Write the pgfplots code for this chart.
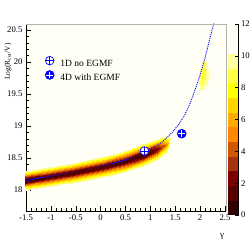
\documentclass[border=0pt]{standalone}
\usepackage{pgfplots}
\pgfplotsset{compat=1.18}
\usepackage{fontspec}
\setmainfont{Liberation Serif}
\definecolor{bgc}{RGB}{255,255,245}
\definecolor{mblue}{RGB}{0,0,255}
\pgfdeclareplotmark{ocross}{%
  \pgfpathcircle{\pgfpointorigin}{\pgfplotmarksize}%
  \pgfusepathqfillstroke
  \pgfpathmoveto{\pgfqpoint{-\pgfplotmarksize}{0pt}}%
  \pgfpathlineto{\pgfqpoint{\pgfplotmarksize}{0pt}}%
  \pgfpathmoveto{\pgfqpoint{0pt}{-\pgfplotmarksize}}%
  \pgfpathlineto{\pgfqpoint{0pt}{\pgfplotmarksize}}%
  \pgfusepathqstroke
}
\pgfdeclareplotmark{fcross}{%
  \pgfpathcircle{\pgfpointorigin}{\pgfplotmarksize}%
  \pgfusepathqfillstroke
  \pgfsetstrokecolor{white}%
  \pgfpathmoveto{\pgfqpoint{-0.8\pgfplotmarksize}{0pt}}%
  \pgfpathlineto{\pgfqpoint{0.8\pgfplotmarksize}{0pt}}%
  \pgfpathmoveto{\pgfqpoint{0pt}{-0.8\pgfplotmarksize}}%
  \pgfpathlineto{\pgfqpoint{0pt}{0.8\pgfplotmarksize}}%
  \pgfusepathqstroke
}
\begin{document}
\begin{tikzpicture}
\useasboundingbox (0,0) rectangle (252pt,241pt);
\begin{axis}[
  at={(26pt,30pt)}, anchor=south west,
  scale only axis, width=200pt, height=187pt,
  xmin=-1.5, xmax=2.52, ymin=17.672, ymax=20.594,
  clip mode=individual,
  axis x line*=bottom, axis y line*=left,
  x axis line style={-}, y axis line style={-},
  axis line style={line width=0.6pt},
  xtick={-1.5,-1,-0.5,0,0.5,1,1.5,2,2.5},
  ytick={18,18.5,19,19.5,20,20.5},
  minor x tick num=4, minor y tick num=4,
  tick align=inside, major tick length=5pt, minor tick length=2.7pt,
  tick style={black, line width=0.5pt},
  ticklabel style={font=\fontsize{8.7}{10}\selectfont},
  /pgf/number format/assume math mode=true,
  axis background/.style={fill=bgc},
  colormap={root}{rgb255=(48,0,0) rgb255=(88,0,0) rgb255=(124,0,0) rgb255=(168,50,10) rgb255=(208,88,0) rgb255=(255,136,0) rgb255=(255,170,0) rgb255=(255,212,0) rgb255=(255,255,0) rgb255=(255,255,70) rgb255=(255,255,160) rgb255=(255,255,245) rgb255=(255,255,245)},
  colormap access=piecewise constant,
  point meta min=0, point meta max=12,
  colorbar,
  colorbar style={
    at={(parent axis.north east)}, anchor=north west, xshift=-7pt,
    scale only axis, width=11pt, height=191pt,
    ytick={0,2,4,6,8,10,12},
    axis x line=none, axis y line*=right, y axis line style={-},
    tick align=inside, major tick length=4pt,
    tick style={black, line width=0.5pt},
    yticklabel style={font=\fontsize{8.7}{10}\selectfont, xshift=-1pt},
    /pgf/number format/assume math mode=true,
  },
  xlabel={γ},
  xlabel style={at={(rel axis cs:0.98,-0.134)}, anchor=center, font=\fontsize{9}{10}\selectfont},
  ylabel={Log(R\textsubscript{cut}/V)},
  ylabel style={at={(rel axis cs:-0.09,0.80)}, anchor=center, font=\fontsize{7.5}{9}\selectfont},
  legend style={draw=none, fill=none, at={(rel axis cs:0.096,0.828)}, anchor=north west,
    font=\fontsize{9.5}{11}\selectfont, inner sep=0pt, row sep=1.4pt,
    nodes={inner sep=1.5pt}, /tikz/column sep=5pt},
  legend cell align=left,
  legend image code/.code={\draw[#1] plot coordinates {(0pt,3.2pt)};},
]
% main likelihood band (columns of constant gamma, top to bottom)
\addplot[surf, shader=interp, forget plot, point meta=explicit] table[x=g, y=y, meta=v] {
g y v
-1.6 18.30 11
-1.6 18.236 7.0
-1.6 18.18 2.6
-1.6 18.14 0.7
-1.6 18.10 2.6
-1.6 18.044 7.0
-1.6 17.98 11

-1.14 18.36 11
-1.14 18.294 7.0
-1.14 18.236 2.6
-1.14 18.195 0.6
-1.14 18.154 2.6
-1.14 18.096 7.0
-1.14 18.03 11

-0.53 18.44 11
-0.53 18.372 7.0
-0.53 18.3125 2.6
-0.53 18.27 0.9
-0.53 18.2275 2.6
-0.53 18.168 7.0
-0.53 18.10 11

0.07 18.54 11
0.07 18.47 7.0
0.07 18.409 2.6
0.07 18.365 1.0
0.07 18.321 2.6
0.07 18.26 7.0
0.07 18.19 11

0.47 18.63 11
0.47 18.556 7.0
0.47 18.491 2.6
0.47 18.445 0.8
0.47 18.399 2.6
0.47 18.334 7.0
0.47 18.26 11

0.87 18.75 11
0.87 18.672 7.0
0.87 18.604 2.6
0.87 18.555 0.5
0.87 18.506 2.6
0.87 18.438 7.0
0.87 18.36 11

1.14 18.82 11
1.14 18.746 7.3
1.14 18.681 3.4
1.14 18.635 1.8
1.14 18.589 3.4
1.14 18.524 7.3
1.14 18.45 11

1.34 18.87 11
1.34 18.81 8.8
1.34 18.7575 6.6
1.34 18.72 5.0
1.34 18.6825 6.6
1.34 18.63 8.8
1.34 18.57 11

1.44 18.83 11
1.44 18.83 11
1.44 18.83 11
1.44 18.83 11
1.44 18.83 11
1.44 18.83 11
1.44 18.83 11
};
% secondary island near gamma ~ 2 (rows of constant y)
\addplot[surf, shader=interp, forget plot, point meta=explicit] table[x=g, y=y, meta=v] {
g y v
1.97 19.50 11
2.03 19.50 11
2.09 19.50 11
2.15 19.50 11

1.94 19.58 11
2.00 19.58 9.9
2.11 19.58 10.3
2.22 19.58 11

1.93 19.68 11
2.02 19.68 8.5
2.14 19.68 10.0
2.25 19.68 11

1.94 19.78 11
2.04 19.78 8.2
2.16 19.78 10.0
2.26 19.78 11

1.96 19.88 11
2.06 19.88 8.4
2.16 19.88 10.1
2.24 19.88 11

1.99 19.98 11
2.08 19.98 9.2
2.15 19.98 10.3
2.21 19.98 11

2.04 20.08 11
2.10 20.08 10.3
2.14 20.08 10.6
2.17 20.08 11

2.09 20.16 11
2.11 20.16 11
2.13 20.16 11
2.15 20.16 11
};
% expectation curve
\addplot[mblue, line width=0.9pt, dash pattern=on 1pt off 1pt, smooth, tension=0.4, forget plot] coordinates {
(-1.5,18.15) (-1,18.22) (-0.5,18.29) (0,18.37) (0.5,18.47) (0.88,18.60) (1.2,18.73) (1.4,18.87) (1.5,18.96) (1.6,19.06) (1.7,19.19) (1.8,19.36) (1.9,19.57) (2.0,19.80) (2.1,20.07) (2.2,20.38) (2.28,20.62)
};
\addplot[mblue, only marks, mark=ocross, mark size=4.3pt, mark options={fill=white, line width=0.7pt}] coordinates {(0.88,18.61)};
\addlegendentry{1D no EGMF}
\addplot[mblue, only marks, mark=fcross, mark size=4.3pt, mark options={fill=mblue, line width=0.9pt}] coordinates {(1.63,18.88)};
\addlegendentry{4D with EGMF}
\draw[black!30, line width=0.5pt] (rel axis cs:0,1) -- (rel axis cs:1,1) -- (rel axis cs:1,0);
\end{axis}
\end{tikzpicture}
\end{document}
